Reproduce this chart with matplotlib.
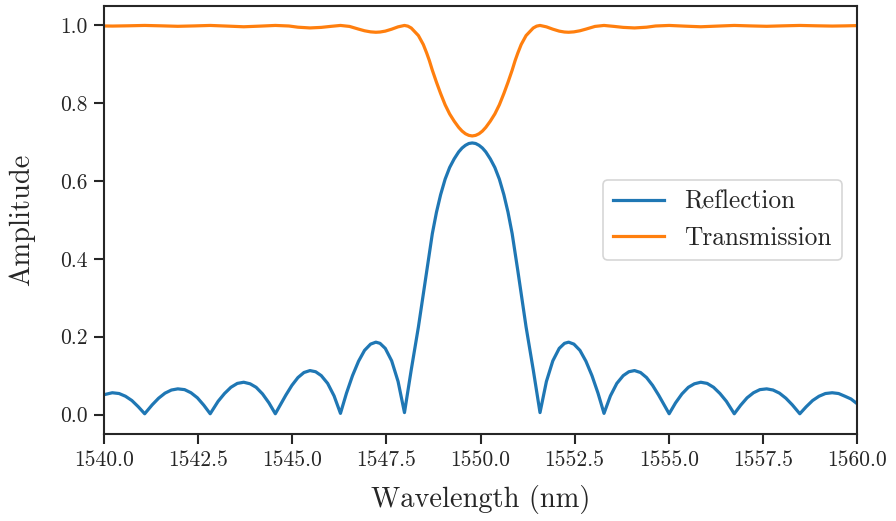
import matplotlib
matplotlib.use('Agg')
import matplotlib.pyplot as plt

# reflection amplitude
refl_wl = [1540.00, 1540.22, 1540.40, 1540.57, 1540.74, 1540.91, 1541.08,
           1541.28, 1541.45, 1541.62, 1541.79, 1541.96, 1542.14, 1542.31, 1542.48, 1542.65, 1542.82,
           1543.03, 1543.20, 1543.37, 1543.54, 1543.71, 1543.88, 1544.04, 1544.21, 1544.38, 1544.55,
           1544.69, 1544.83, 1544.99, 1545.15, 1545.31, 1545.47, 1545.62, 1545.77, 1545.94, 1546.11, 1546.28,
           1546.44, 1546.60, 1546.76, 1546.92, 1547.08, 1547.22, 1547.33, 1547.47, 1547.64, 1547.81, 1547.98,
           1548.16, 1548.35, 1548.48, 1548.57, 1548.64, 1548.72, 1548.83, 1548.94, 1549.06, 1549.18,
           1549.30, 1549.42, 1549.51, 1549.60, 1549.69, 1549.78,
           1549.87, 1549.96, 1550.05, 1550.14, 1550.26, 1550.38, 1550.50, 1550.62, 1550.73, 1550.84,
           1550.92, 1550.99, 1551.08, 1551.21, 1551.40, 1551.58,
           1551.75, 1551.92, 1552.09, 1552.23, 1552.34, 1552.48, 1552.64, 1552.80, 1552.96, 1553.12, 1553.28,
           1553.45, 1553.62, 1553.79, 1553.94, 1554.09, 1554.25, 1554.41, 1554.57, 1554.73, 1554.87, 1555.01,
           1555.18, 1555.35, 1555.52, 1555.68, 1555.85, 1556.02, 1556.19, 1556.36, 1556.53, 1556.74,
           1556.91, 1557.08, 1557.25, 1557.42, 1557.60, 1557.77, 1557.94, 1558.11, 1558.28, 1558.48,
           1558.65, 1558.82, 1558.99, 1559.16, 1559.34, 1559.51, 1559.68, 1559.84, 1560.00]
reflection = [0.051, 0.056, 0.054, 0.047, 0.036, 0.020, 0.002,
              0.025, 0.042, 0.055, 0.063, 0.066, 0.064, 0.056, 0.043, 0.024, 0.002,
              0.034, 0.054, 0.070, 0.080, 0.083, 0.079, 0.070, 0.053, 0.030, 0.002,
              0.026, 0.050, 0.075, 0.095, 0.108, 0.113, 0.110, 0.100, 0.080, 0.048, 0.003,
              0.055, 0.100, 0.137, 0.165, 0.181, 0.186, 0.183, 0.170, 0.138, 0.085, 0.005,
              0.115, 0.225, 0.310, 0.370, 0.415, 0.465, 0.520, 0.565, 0.605, 0.635,
              0.657, 0.675, 0.685, 0.692, 0.6966, 0.698,
              0.6966, 0.692, 0.685, 0.675, 0.657, 0.635, 0.605, 0.565, 0.520, 0.465,
              0.415, 0.370, 0.310, 0.225, 0.115, 0.005,
              0.085, 0.138, 0.170, 0.183, 0.186, 0.181, 0.165, 0.137, 0.100, 0.055, 0.003,
              0.048, 0.080, 0.100, 0.110, 0.113, 0.108, 0.095, 0.075, 0.050, 0.026, 0.002,
              0.030, 0.053, 0.070, 0.079, 0.083, 0.080, 0.070, 0.054, 0.034, 0.002,
              0.024, 0.043, 0.056, 0.064, 0.066, 0.063, 0.055, 0.042, 0.025, 0.002,
              0.020, 0.036, 0.047, 0.054, 0.056, 0.054, 0.047, 0.040, 0.028]

# transmission amplitude
trans_wl = [1540.00, 1540.22, 1540.65, 1541.08, 1541.52, 1541.96, 1542.40, 1542.82,
            1543.28, 1543.71, 1544.13, 1544.55, 1544.91, 1545.15, 1545.47, 1545.77, 1546.02, 1546.28,
            1546.52, 1546.76, 1546.92, 1547.08, 1547.22, 1547.33, 1547.47, 1547.64, 1547.81, 1547.98,
            1548.07, 1548.16, 1548.35, 1548.48, 1548.57, 1548.64, 1548.72, 1548.83, 1548.94, 1549.06,
            1549.18, 1549.30, 1549.42, 1549.51, 1549.60, 1549.69, 1549.78,
            1549.87, 1549.96, 1550.05, 1550.14, 1550.26, 1550.38, 1550.50, 1550.62, 1550.73, 1550.84,
            1550.92, 1550.99, 1551.08, 1551.21, 1551.40, 1551.49, 1551.58,
            1551.75, 1551.92, 1552.09, 1552.23, 1552.34, 1552.48, 1552.64, 1552.80, 1553.04, 1553.28,
            1553.54, 1553.79, 1554.09, 1554.41, 1554.65, 1555.01, 1555.43, 1555.85, 1556.28, 1556.74,
            1557.17, 1557.60, 1558.04, 1558.48, 1558.91, 1559.34, 1559.68, 1560.00]
transmission = [0.9987, 0.9984, 0.9991, 1.0, 0.9990, 0.9978, 0.9988, 1.0,
                0.9983, 0.9966, 0.9982, 1.0, 0.9986, 0.9955, 0.9936, 0.9950, 0.9976, 1.0,
                0.9975, 0.9906, 0.9863, 0.9835, 0.9825, 0.9831, 0.9854, 0.9904, 0.9964, 1.0,
                0.9982, 0.9934, 0.974, 0.951, 0.929, 0.910, 0.885, 0.854, 0.825, 0.796,
                0.7725, 0.754, 0.738, 0.7285, 0.7216, 0.7175, 0.716,
                0.7175, 0.7216, 0.7285, 0.738, 0.754, 0.7725, 0.796, 0.825, 0.854, 0.885,
                0.910, 0.929, 0.951, 0.974, 0.9934, 0.9982, 1.0,
                0.9964, 0.9904, 0.9854, 0.9831, 0.9825, 0.9835, 0.9863, 0.9906, 0.9975, 1.0,
                0.9976, 0.9950, 0.9936, 0.9955, 0.9986, 1.0, 0.9982, 0.9966, 0.9983, 1.0,
                0.9988, 0.9978, 0.9990, 1.0, 0.9991, 0.9984, 0.9989, 0.9996]

xticks = [1540.0, 1542.5, 1545.0, 1547.5, 1550.0, 1552.5, 1555.0, 1557.5, 1560.0]
yticks = [0.0, 0.2, 0.4, 0.6, 0.8, 1.0]

plt.rcParams['font.family'] = 'cmr10'
plt.rcParams['axes.formatter.use_mathtext'] = True
plt.rcParams['mathtext.fontset'] = 'cm'
dark = '#262626'
plt.rcParams['text.color'] = dark
plt.rcParams['axes.labelcolor'] = dark
plt.rcParams['xtick.color'] = dark
plt.rcParams['ytick.color'] = dark

fig = plt.figure(figsize=(8.96, 5.21), dpi=100)
ax = fig.add_axes([0.1161, 0.167, 0.8404, 0.8215])

ax.plot(refl_wl, reflection, color='#1f77b4', lw=2.3, label='Reflection')
ax.plot(trans_wl, transmission, color='#ff7f0e', lw=2.3, label='Transmission')

ax.set_xlim(1540, 1560)
ax.set_ylim(-0.05, 1.05)
ax.set_xticks(xticks)
ax.set_xticklabels(['%.1f' % t for t in xticks])
ax.set_yticks(yticks)
ax.set_yticklabels(['%.1f' % t for t in yticks])
ax.tick_params(labelsize=15.5, length=7, width=1.5, direction='out', colors=dark, pad=5)
for s in ax.spines.values():
    s.set_linewidth(1.5)
    s.set_color(dark)

ax.set_xlabel('Wavelength (nm)', fontsize=20.5, labelpad=11)
ax.set_ylabel('Amplitude', fontsize=20.5, labelpad=18)
leg = ax.legend(loc='center right', fontsize=18.3, frameon=True, fancybox=True,
                borderaxespad=0.6)
leg.get_frame().set_edgecolor('#cccccc')
leg.get_frame().set_linewidth(1.2)

fig.savefig('out.png', dpi=100)
